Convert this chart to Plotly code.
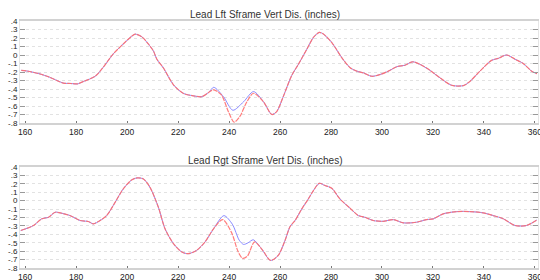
import plotly.graph_objects as go

# ---------------- data ----------------
y_tickvals = [0.4, 0.3, 0.2, 0.1, 0.0, -0.1, -0.2, -0.3, -0.4, -0.5, -0.6, -0.7, -0.8]
y_ticktext = [".4", ".3", ".2", ".1", "0", "-.1", "-.2", "-.3", "-.4", "-.5", "-.6", "-.7", "-.8"]
x_tickvals = [160, 180, 200, 220, 240, 260, 280, 300, 320, 340, 360]

titles = ["Lead Lft Sframe Vert Dis. (inches)", "Lead Rgt Sframe Vert Dis. (inches)"]

# Top chart (Lead Lft)
top_x_common1 = [158.5, 161, 165.5, 169.5, 175, 178, 180.5, 183, 187.5, 190.5, 194.5, 198.5,
                 201.8, 203.2, 205.8, 208.4, 210.3, 211.7, 214.2, 218.2, 222, 226, 229.3, 232]
top_y_common1 = [-0.18, -0.19, -0.22, -0.26, -0.33, -0.335, -0.34, -0.31, -0.25, -0.15, 0.01, 0.13,
                 0.22, 0.245, 0.214, 0.127, 0.05, -0.05, -0.15, -0.35, -0.45, -0.48, -0.49, -0.44]
top_red_x = [234, 237, 239.8, 242, 244.3, 247, 249.6, 253.5]
top_red_y = [-0.41, -0.47, -0.67, -0.79, -0.72, -0.55, -0.45, -0.55]
top_blue_x = [234, 237.8, 241.5, 245.7, 249.6, 253.5]
top_blue_y = [-0.38, -0.49, -0.65, -0.55, -0.43, -0.55]
top_x_common2 = [256.8, 258.7, 261.3, 264.6, 267.2, 270.5, 273.1, 275.4, 277, 280.3, 284.2, 287.5,
                 290.1, 292.7, 296, 299.2, 302.5, 305.8, 309, 312, 314.9, 318.8, 322.8, 327.3,
                 331.9, 334.5, 338.4, 343, 345.6, 348.9, 352.2, 355.4, 358.7, 360.8]
top_y_common2 = [-0.70, -0.665, -0.487, -0.24, -0.11, 0.067, 0.206, 0.266, 0.246, 0.147, -0.03, -0.15,
                 -0.19, -0.21, -0.25, -0.23, -0.19, -0.138, -0.12, -0.08, -0.11, -0.18, -0.27, -0.356,
                 -0.36, -0.31, -0.19, -0.063, -0.04, 0.0, -0.05, -0.1, -0.19, -0.22]

# Bottom chart (Lead Rgt)
bot_x_common1 = [158.3, 163.3, 166.5, 169.2, 171.8, 174.4, 177.6, 181.6, 184.8, 186.8, 189.4, 192,
                 195.3, 198.5, 201.8, 204, 206.4, 209, 212.3, 214.9, 218.2, 221.5, 224, 227.3,
                 230.6, 233.9]
bot_y_common1 = [-0.355, -0.295, -0.216, -0.197, -0.138, -0.15, -0.177, -0.236, -0.248, -0.275, -0.236, -0.177,
                 -0.02, 0.14, 0.246, 0.27, 0.258, 0.158, -0.08, -0.335, -0.51, -0.61, -0.63, -0.59,
                 -0.49, -0.335]
bot_red_x = [237.5, 241, 243.5, 245.3, 247.2, 250, 253.2]
bot_red_y = [-0.225, -0.38, -0.6, -0.685, -0.66, -0.49, -0.59]
bot_blue_x = [238, 241.3, 244, 245.7, 247.5, 249.5, 252.7]
bot_blue_y = [-0.178, -0.28, -0.47, -0.52, -0.5, -0.465, -0.57]
bot_x_common2 = [256.3, 259.3, 262, 263.9, 265.9, 268.5, 271.1, 273.1, 275.4, 277.6, 280.3, 283.5,
                 287.5, 290.7, 293.3, 296.6, 300.5, 304.4, 308.4, 313.6, 317.5, 320.1, 324, 329.3,
                 334.5, 339.7, 343.6, 347.6, 352.2, 356.7, 360.7]
bot_y_common2 = [-0.71, -0.65, -0.47, -0.31, -0.236, -0.1, 0.02, 0.12, 0.206, 0.18, 0.147, 0.02,
                 -0.09, -0.177, -0.197, -0.236, -0.245, -0.225, -0.264, -0.256, -0.225, -0.216, -0.157, -0.13,
                 -0.13, -0.145, -0.177, -0.216, -0.295, -0.295, -0.23]

# ---------------- figure ----------------
RED = "rgba(255,110,110,0.9)"
BLUE = "rgba(125,125,255,0.9)"

fig = go.Figure()


def add_pair(xc1, yc1, bx, by, rx, ry, xc2, yc2, xa, ya):
    bxs = xc1 + bx + xc2
    bys = yc1 + by + yc2
    rxs = xc1 + rx + xc2
    rys = yc1 + ry + yc2
    fig.add_trace(go.Scatter(x=bxs, y=bys, mode="lines", xaxis=xa, yaxis=ya,
                             line=dict(color=BLUE, width=1.0, shape="spline", smoothing=0.8),
                             showlegend=False, hoverinfo="skip"))
    fig.add_trace(go.Scatter(x=rxs, y=rys, mode="lines", xaxis=xa, yaxis=ya,
                             line=dict(color=RED, width=1.2, shape="spline", smoothing=0.8,
                                       dash="5px,1px"),
                             showlegend=False, hoverinfo="skip"))


add_pair(top_x_common1, top_y_common1, top_blue_x, top_blue_y, top_red_x, top_red_y,
         top_x_common2, top_y_common2, "x", "y")
add_pair(bot_x_common1, bot_y_common1, bot_blue_x, bot_blue_y, bot_red_x, bot_red_y,
         bot_x_common2, bot_y_common2, "x2", "y2")

FONT = "Liberation Sans, Arial, sans-serif"

xaxis_common = dict(range=[158, 361.2], tickvals=x_tickvals, showgrid=False, zeroline=False,
                    showline=True, linecolor="#d2d2d2", linewidth=2, mirror=True,
                    ticks="inside", ticklen=2, tickcolor="#777", tickwidth=1,
                    automargin=False, ticklabeloverflow="allow",
                    tickfont=dict(family=FONT, size=8.5, color="#222"))
yaxis_common = dict(range=[-0.8, 0.4], tickvals=y_tickvals, ticktext=y_ticktext,
                    showgrid=True, gridcolor="#e2e2e2", griddash="dot", gridwidth=1,
                    zeroline=False, showline=True, linecolor="#e6e6e6", linewidth=1, mirror="ticks",
                    ticks="inside", ticklen=5, tickcolor="#999", tickwidth=1,
                    automargin=False, ticklabeloverflow="allow",
                    tickfont=dict(family=FONT, size=8, color="#222"))

fig.update_layout(
    width=540, height=280,
    margin=dict(l=20, r=2, t=21, b=12, autoexpand=False),
    paper_bgcolor="white", plot_bgcolor="white",
    xaxis=dict(domain=[0, 1], anchor="y", **xaxis_common),
    yaxis=dict(domain=[0.587, 1.0], anchor="x", **yaxis_common),
    xaxis2=dict(domain=[0, 1], anchor="y2", **xaxis_common),
    yaxis2=dict(domain=[0.0, 0.409], anchor="x2", **yaxis_common),
    annotations=[
        dict(text=titles[0], xref="paper", yref="paper", x=0.473, y=1.028, showarrow=False,
             xanchor="center", yanchor="middle", font=dict(family=FONT, size=10, color="#333")),
        dict(text=titles[1], xref="paper", yref="paper", x=0.473, y=0.434, showarrow=False,
             xanchor="center", yanchor="middle", font=dict(family=FONT, size=10, color="#333")),
    ],
)

fig.write_html("out.html", config={"displayModeBar": False, "staticPlot": True},
               post_script="document.body.style.margin='0';document.body.style.overflow='hidden';")
